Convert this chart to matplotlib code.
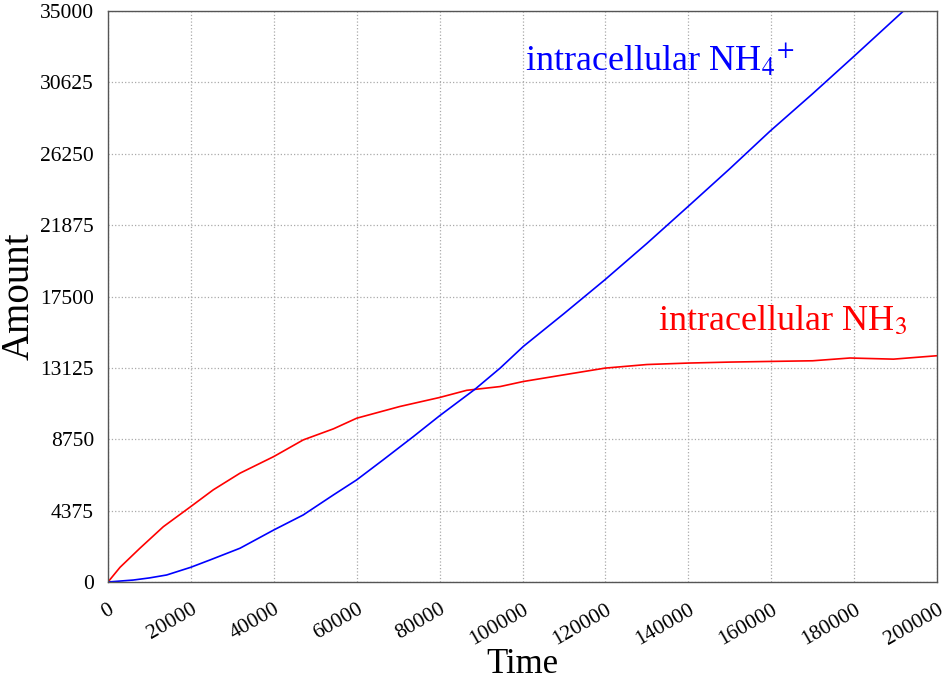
import numpy as np
import matplotlib
matplotlib.use('Agg')
import matplotlib.pyplot as plt

plt.rcParams['font.family'] = ['Liberation Serif', 'DejaVu Serif']
plt.rcParams['mathtext.fontset'] = 'stix'

# intracellular NH3 (red)
t_nh3 = [0, 2900, 7700, 13350, 19950, 25400, 31850, 40000, 47100, 54400, 60000,
         70450, 80000, 86550, 94600, 100200, 110000, 119900, 130000, 140000,
         150000, 159700, 170000, 179000, 189500, 200000]
nh3 = [0, 900, 2070, 3390, 4620, 5650, 6670, 7690, 8710, 9390, 10040,
       10760, 11310, 11750, 11980, 12290, 12700, 13110, 13330, 13420,
       13480, 13520, 13560, 13730, 13660, 13870]

# intracellular NH4+ (blue)
t_nh4 = [0, 6100, 10000, 14150, 19950, 24600, 31850, 40000, 47100, 54400, 60000,
         66400, 73700, 80000, 88560, 94600, 100200, 110000, 119900, 130000,
         140000, 150000, 159700, 170000, 180000, 191900, 200000]
nh4 = [0, 120, 250, 430, 900, 1350, 2070, 3190, 4110, 5340, 6260,
       7490, 8920, 10190, 11820, 13110, 14440, 16450, 18530, 20750,
       23030, 25330, 27630, 29930, 32230, 35000, 36800]

xticks = np.arange(0, 200001, 20000)
yticks = [0, 4375, 8750, 13125, 17500, 21875, 26250, 30625, 35000]

fig = plt.figure(figsize=(9.48, 6.83), dpi=100)
ax = fig.add_axes([108 / 948, 1 - 582 / 683, 829 / 948, 571 / 683])

ax.plot(t_nh3, nh3, color='#ff0000', lw=1.2)
ax.plot(t_nh4, nh4, color='#0000ff', lw=1.2)

ax.set_xlim(0, 200000)
ax.set_ylim(0, 35000)
ax.set_xticks(xticks)
ax.set_yticks(yticks)
ax.set_xticklabels([str(v) for v in xticks], rotation=30, ha='right',
                   va='top', rotation_mode='anchor')
ax.set_yticklabels([str(v) for v in yticks])
ax.tick_params(length=0, labelsize=15.5, pad=10)
ax.tick_params(axis='x', pad=13)

ax.grid(True, color='#aaaaaa', linestyle=':', lw=0.9)
for s in ax.spines.values():
    s.set_color('#555555')
    s.set_linewidth(1.0)

ax.set_xlabel('Time', fontsize=25, labelpad=-1)
ax.set_ylabel('Amount', fontsize=28, labelpad=2)

ax.text(100600, 31370, r'intracellular NH$_{4}$$^{+}$', color='#0000ff', fontsize=26)
ax.text(132700, 15460, r'intracellular NH$_{3}$', color='#ff0000', fontsize=26)

fig.savefig('out.png', dpi=100)
